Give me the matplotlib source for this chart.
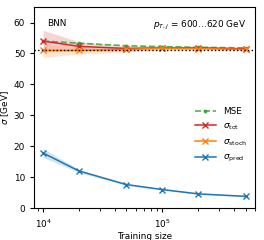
import matplotlib
matplotlib.use('Agg')
import matplotlib.pyplot as plt
import numpy as np

# training sizes and widths
train_size = [1e4, 2e4, 5e4, 1e5, 2e5, 5e5]
mse = [54.0, 53.3, 52.5, 52.2, 52.0, 51.8]
sig_tot = [54.0, 52.3, 51.6, 51.8, 51.8, 51.5]
sig_tot_err = [3.5, 1.5, 0.8, 0.6, 0.5, 0.4]
sig_stoch = [51.0, 51.0, 51.3, 51.7, 51.6, 51.3]
sig_stoch_err = [2.2, 1.2, 0.8, 0.6, 0.5, 0.4]
sig_pred = [17.8, 12.0, 7.6, 6.0, 4.6, 3.8]
sig_pred_err = [1.4, 0.5, 0.3, 0.2, 0.2, 0.2]
truth = 51.0

fs = 6.4
fig = plt.figure(figsize=(2.64, 2.4), dpi=100)
ax = fig.add_axes([0.129, 0.133, 0.837, 0.8375])

x = np.array(train_size)

ax.plot(x, mse, '--', color='tab:green', marker='.', ms=3.5, lw=1.2, alpha=0.8, label='MSE')
for y, err, c, lab in [(sig_tot, sig_tot_err, 'tab:red', r'$\sigma_\mathrm{tot}$'),
                       (sig_stoch, sig_stoch_err, 'tab:orange', r'$\sigma_\mathrm{stoch}$'),
                       (sig_pred, sig_pred_err, 'tab:blue', r'$\sigma_\mathrm{pred}$')]:
    y = np.array(y)
    err = np.array(err)
    ax.plot(x, y, '-', color=c, marker='x', ms=3.8, lw=1.1, label=lab)
    ax.fill_between(x, y - err, y + err, color=c, alpha=0.2, lw=0)

ax.axhline(truth, color='black', ls=':', lw=1)

ax.set_xscale('log')
ax.set_xlim(8400, 6e5)
ax.set_ylim(0, 65)
ax.set_xlabel('Training size', fontsize=fs, labelpad=1.5)
ax.set_ylabel(r'$\sigma$ [GeV]', fontsize=fs, labelpad=2)
ax.tick_params(labelsize=fs, length=3)
ax.tick_params(which='minor', length=2)

ax.text(0.06, 0.94, 'BNN', transform=ax.transAxes, fontsize=fs, va='top')
ax.text(0.96, 0.94, r'$p_{T,j}$ = 600...620 GeV', transform=ax.transAxes,
        fontsize=fs, va='top', ha='right')

ax.legend(loc='center right', bbox_to_anchor=(1.0, 0.36), frameon=False, fontsize=fs,
          handlelength=2.4, labelspacing=0.6)

fig.savefig('out.png', dpi=100)
